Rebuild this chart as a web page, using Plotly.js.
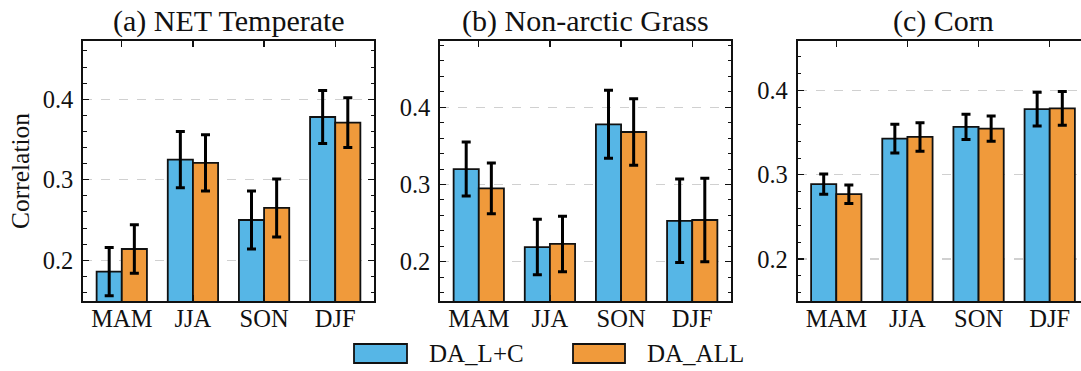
<!DOCTYPE html>
<html><head><meta charset="utf-8">
<script src="https://cdn.plot.ly/plotly-3.0.1.min.js"></script>
<style>html,body{margin:0;padding:0;overflow:hidden;background:#fff}</style>
</head><body><div id="chart"></div>
<script>
// ---- data ----
const seasons = ['MAM', 'JJA', 'SON', 'DJF'];
const seriesNames = ['DA_L+C', 'DA_ALL'];
const panelTitles = ['(a) NET Temperate', '(b) Non-arctic Grass', '(c) Corn'];
const yAxisTitle = 'Correlation';

const netLC     = [0.186, 0.325, 0.250, 0.378];
const netLCErr  = [0.030, 0.035, 0.036, 0.033];
const netALL    = [0.214, 0.321, 0.265, 0.371];
const netALLErr = [0.030, 0.035, 0.036, 0.031];

const grassLC     = [0.320, 0.219, 0.378, 0.253];
const grassLCErr  = [0.035, 0.036, 0.044, 0.054];
const grassALL    = [0.295, 0.223, 0.368, 0.254];
const grassALLErr = [0.033, 0.036, 0.043, 0.054];

const cornLC     = [0.289, 0.343, 0.357, 0.378];
const cornLCErr  = [0.012, 0.017, 0.015, 0.020];
const cornALL    = [0.277, 0.345, 0.355, 0.379];
const cornALLErr = [0.011, 0.017, 0.015, 0.020];

const yRanges = [[0.1494, 0.4724], [0.1491, 0.4859], [0.1501, 0.459]];

// ---- styling ----
const W = 1095, H = 371;
const colors = ['#56B6E6', '#F09A3B'];
const FONT = '"Liberation Serif", "Times New Roman", serif';
const px = v => v / W;
const py = v => 1 - v / H;

const panels = [
  {lc: netLC, lcErr: netLCErr, all: netALL, allErr: netALLErr},
  {lc: grassLC, lcErr: grassLCErr, all: grassALL, allErr: grassALLErr},
  {lc: cornLC, lcErr: cornLCErr, all: cornALL, allErr: cornALLErr}
];
const xDomains = [[83, 374], [440, 731], [797.5, 1088.5]];

const traces = [];
panels.forEach((p, i) => {
  const xa = i === 0 ? 'x' : 'x' + (i + 1);
  const ya = i === 0 ? 'y' : 'y' + (i + 1);
  [[p.lc, p.lcErr], [p.all, p.allErr]].forEach((d, s) => {
    traces.push({
      type: 'bar', x: seasons, y: d[0], name: seriesNames[s],
      xaxis: xa, yaxis: ya, showlegend: false,
      offsetgroup: String(s),
      marker: {color: colors[s], line: {color: '#111', width: 1.8}},
      error_y: {type: 'data', array: d[1], visible: true, color: '#000', thickness: 3, width: 4.5}
    });
  });
});

const layout = {
  width: W, height: H,
  margin: {l: 0, r: 0, t: 0, b: 0},
  paper_bgcolor: '#fff', plot_bgcolor: '#fff',
  font: {family: FONT, size: 24, color: '#111'},
  barmode: 'group', bargap: 0.293, bargroupgap: 0,
  showlegend: false,
  annotations: [], shapes: []
};

for (let i = 0; i < 3; i++) {
  const sfx = i === 0 ? '' : String(i + 1);
  layout['xaxis' + sfx] = {
    domain: [px(xDomains[i][0]), px(xDomains[i][1])],
    anchor: 'y' + sfx, type: 'category', range: [-0.545, 3.545],
    showline: true, linecolor: '#111', linewidth: 1.8, mirror: 'allticks',
    ticks: 'inside', ticklen: 6, tickwidth: 1.3, tickcolor: '#111',
    ticklabelstandoff: -5,
    tickfont: {family: FONT, size: 24.5, color: '#111'},
    showgrid: false, zeroline: false, fixedrange: true
  };
  layout['yaxis' + sfx] = {
    domain: [70 / H, 330 / H],
    anchor: 'x' + sfx, range: yRanges[i],
    tick0: 0, dtick: 0.1, tickformat: '.1f',
    showline: true, linecolor: '#111', linewidth: 1.8, mirror: 'allticks',
    ticks: 'inside', ticklen: 6, tickwidth: 1.3, tickcolor: '#111',
    ticklabelstandoff: 3,
    tickfont: {family: FONT, size: 24.5, color: '#111'},
    showgrid: true, gridcolor: '#d0d0d0', gridwidth: 1.3, griddash: 'dash',
    minor: {tick0: 0, dtick: 0.02, ticks: 'inside', ticklen: 3.5, tickwidth: 1, tickcolor: '#111', showgrid: false},
    zeroline: false, fixedrange: true
  };
  layout.annotations.push({
    text: panelTitles[i], xref: 'paper', yref: 'paper',
    x: px((xDomains[i][0] + xDomains[i][1]) / 2), y: py(21),
    xanchor: 'center', yanchor: 'middle', showarrow: false,
    font: {family: FONT, size: 30, color: '#111'}
  });
}
layout.yaxis.title = {text: yAxisTitle, font: {family: FONT, size: 25.5, color: '#111'}, standoff: 6};

// legend (drawn below the panels)
const legendPatches = [[354, 407, 427], [573, 625, 645]];
legendPatches.forEach((lp, s) => {
  layout.shapes.push({
    type: 'rect', xref: 'paper', yref: 'paper',
    x0: px(lp[0]), x1: px(lp[1]), y0: py(363), y1: py(344),
    fillcolor: colors[s], line: {color: '#111', width: 1.8}
  });
  layout.annotations.push({
    text: seriesNames[s], xref: 'paper', yref: 'paper',
    x: px(lp[2]), y: py(353.5), xanchor: 'left', yanchor: 'middle', showarrow: false,
    font: {family: FONT, size: 25, color: '#111'}
  });
});

Plotly.newPlot('chart', traces, layout, {displayModeBar: false, staticPlot: true});
</script>
</body></html>
